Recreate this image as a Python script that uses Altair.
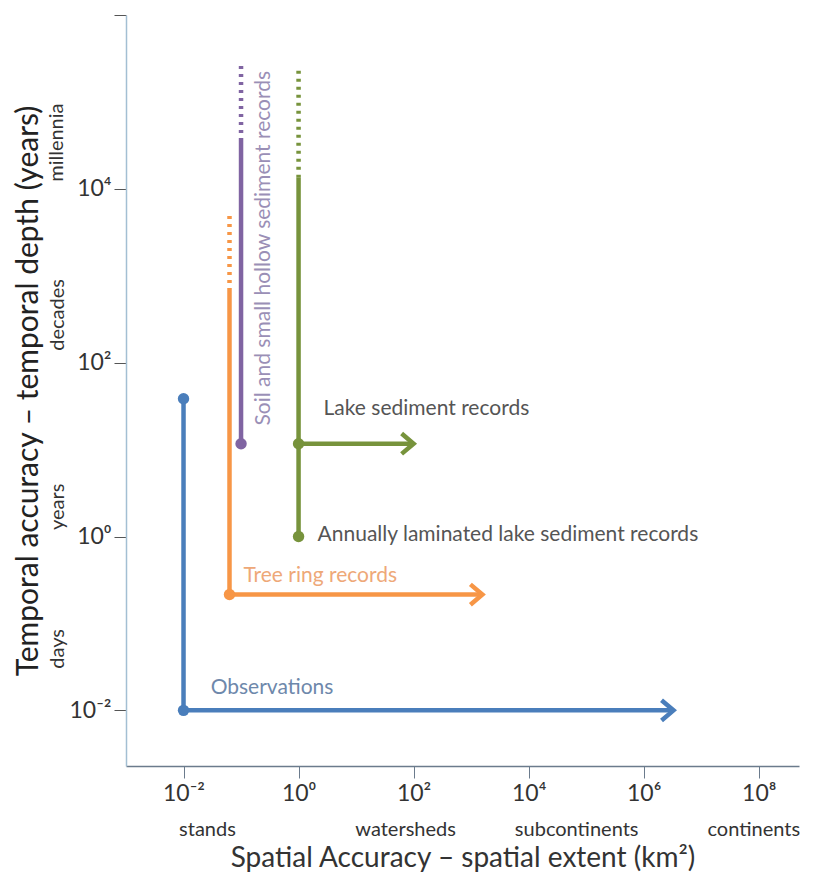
import json
import altair as alt
import pandas as pd

# ---------------- data ----------------
series = ["Observations", "Tree ring records",
          "Soil and small hollow sediment records", "Lake sediment records"]
line_colors = ["#4a7ebb", "#f79646", "#8064a2", "#77933c"]

x_pos = [0.01, 0.063, 0.1, 1.0]
y_low = [0.01, 0.215, 11.7, 1.0]
y_solid_top = [38.5, 670, 35500, 13400]
y_dotted_top = [None, 4900, 260000, 260000]
arrow_y = [0.01, 0.215, None, 11.7]
arrow_x_end = [3.3e6, 1570, None, 100]

dot_series = ["Observations", "Observations", "Tree ring records",
              "Soil and small hollow sediment records",
              "Lake sediment records", "Lake sediment records"]
dot_x = [0.01, 0.01, 0.063, 0.1, 1.0, 1.0]
dot_y = [0.01, 38.5, 0.215, 11.7, 11.7, 1.0]

label_text = ["Observations", "Tree ring records", "Lake sediment records",
              "Annually laminated lake sediment records"]
label_x = [0.0296, 0.110, 2.72, 2.14]
label_y = [0.0179, 0.356, 29.6, 1.03]
label_color = ["#6e88ab", "#eea878", "#555555", "#555555"]

soil_text = ["Soil and small hollow sediment records"]
soil_x = [0.246]
soil_y = [18.9]
soil_color = ["#9a8fb6"]

side_text = ["millennia", "decades", "years", "days"]
side_x = [6.2e-5, 6.6e-5, 6.6e-5, 6.6e-5]
side_y = [34000, 355, 2.2, 0.051]

cat_text = ["stands", "watersheds", "subcontinents", "continents"]
cat_x = [0.0261, 72.6, 68400, 8.2e7]
cat_y = [0.00042, 0.00042, 0.00042, 0.00042]

x_tick_values = [0.01, 1, 100, 1e4, 1e6, 1e8]
x_tick_labels = ["10⁻²", "10⁰", "10²", "10⁴", "10⁶", "10⁸"]
y_tick_values = [0.01, 1, 100, 1e4, 1e6]
y_tick_labels = ["10⁻²", "10⁰", "10²", "10⁴", ""]

# ---------------- scales / axes ----------------
FONT = "Lato"
xscale = alt.Scale(type="log", domain=[1e-3, 10 ** 8.7], nice=False)
yscale = alt.Scale(type="log", domain=[10 ** -2.64, 1e6], nice=False)

xaxis = alt.Axis(
    values=x_tick_values,
    labelExpr=f"{json.dumps(x_tick_labels, ensure_ascii=False)}[indexof({json.dumps(x_tick_values)}, datum.value)]",
    grid=False, tickSize=12, tickColor="#6b7b8c", domainColor="#6b7b8c",
    domainWidth=1.5, labelFontSize=23, labelFont=FONT, labelColor="#333333",
    labelPadding=4, labelFlush=False, labelOverlap=False,
    title="Spatial Accuracy – spatial extent (km²)", titleFont=FONT,
    titleFontSize=28, titleFontWeight="normal", titleColor="#333333",
    titleY=92, titleBaseline="middle",
)
yaxis = alt.Axis(
    values=y_tick_values,
    labelExpr=f"{json.dumps(y_tick_labels, ensure_ascii=False)}[indexof({json.dumps(y_tick_values)}, datum.value)]",
    grid=False, tickSize=12, tickColor="#555555", domainColor="#a3bfd3",
    domainWidth=1.5, labelFontSize=23, labelFont=FONT, labelColor="#333333",
    labelPadding=3, labelFlush=False, labelOverlap=False,
    title="Temporal accuracy – temporal depth (years)", titleFont=FONT,
    titleFontSize=30, titleFontWeight="normal", titleColor="#222222",
    titleX=-98, titleBaseline="middle",
)


def X(field="x"):
    return alt.X(f"{field}:Q", scale=xscale, axis=xaxis)


def Y(field="y"):
    return alt.Y(f"{field}:Q", scale=yscale, axis=yaxis)


color = alt.Color("series:N", scale=alt.Scale(domain=series, range=line_colors), legend=None)

# ---------------- frames ----------------
df_solid = pd.DataFrame({"series": series, "x": x_pos, "y": y_low, "y2": y_solid_top})
df_dot = pd.DataFrame({"series": series, "x": x_pos, "y": y_solid_top, "y2": y_dotted_top}).dropna()
df_arrow = pd.DataFrame({"series": series, "x": x_pos, "x2": arrow_x_end, "y": arrow_y}).dropna()
df_pts = pd.DataFrame({"series": dot_series, "x": dot_x, "y": dot_y})
df_lab = pd.DataFrame({"t": label_text, "x": label_x, "y": label_y, "c": label_color})
df_soil = pd.DataFrame({"t": soil_text, "x": soil_x, "y": soil_y, "c": soil_color})
df_side = pd.DataFrame({"t": side_text, "x": side_x, "y": side_y})
df_cat = pd.DataFrame({"t": cat_text, "x": cat_x, "y": cat_y})

LW = 4.5
solid = alt.Chart(df_solid).mark_rule(strokeWidth=LW, strokeCap="butt").encode(
    x=X(), y=Y(), y2="y2:Q", color=color)
dotted = alt.Chart(df_dot).mark_rule(strokeWidth=LW, strokeDash=[3, 5], strokeCap="butt").encode(
    x=X(), y=Y(), y2="y2:Q", color=color)
horiz = alt.Chart(df_arrow).mark_rule(strokeWidth=LW, strokeCap="butt").encode(
    x=X(), x2="x2:Q", y=Y(), color=color)
heads = alt.Chart(df_arrow).mark_point(
    shape="M -1 -0.85 L 0 0 L -1 0.85", filled=False, strokeWidth=LW, size=576, opacity=1
).encode(x=X("x2"), y=Y(), color=color)
pts = alt.Chart(df_pts).mark_circle(size=130, opacity=1).encode(x=X(), y=Y(), color=color)

labels = alt.Chart(df_lab).mark_text(font=FONT, fontSize=21, align="left", baseline="middle").encode(
    x=X(), y=Y(), text="t:N", color=alt.Color("c:N", scale=None))
soil = alt.Chart(df_soil).mark_text(font=FONT, fontSize=21, align="left", baseline="middle", angle=270).encode(
    x=X(), y=Y(), text="t:N", color=alt.Color("c:N", scale=None))
side = alt.Chart(df_side).mark_text(font=FONT, fontSize=20, align="center", baseline="middle",
                                    angle=270, color="#333333").encode(x=X(), y=Y(), text="t:N")
cats = alt.Chart(df_cat).mark_text(font=FONT, fontSize=20, align="center", baseline="middle",
                                   color="#333333").encode(x=X(), y=Y(), text="t:N")

chart = alt.layer(solid, dotted, horiz, heads, pts, labels, soil, side, cats).properties(
    width=673, height=751,
    autosize=alt.AutoSizeParams(type="none"),
    padding={"left": 118, "top": 7, "right": 6, "bottom": 110},
    background="white",
).configure_view(stroke=None).configure_text(font=FONT)

chart.save("out.html", embed_options={"renderer": "svg", "actions": False})
